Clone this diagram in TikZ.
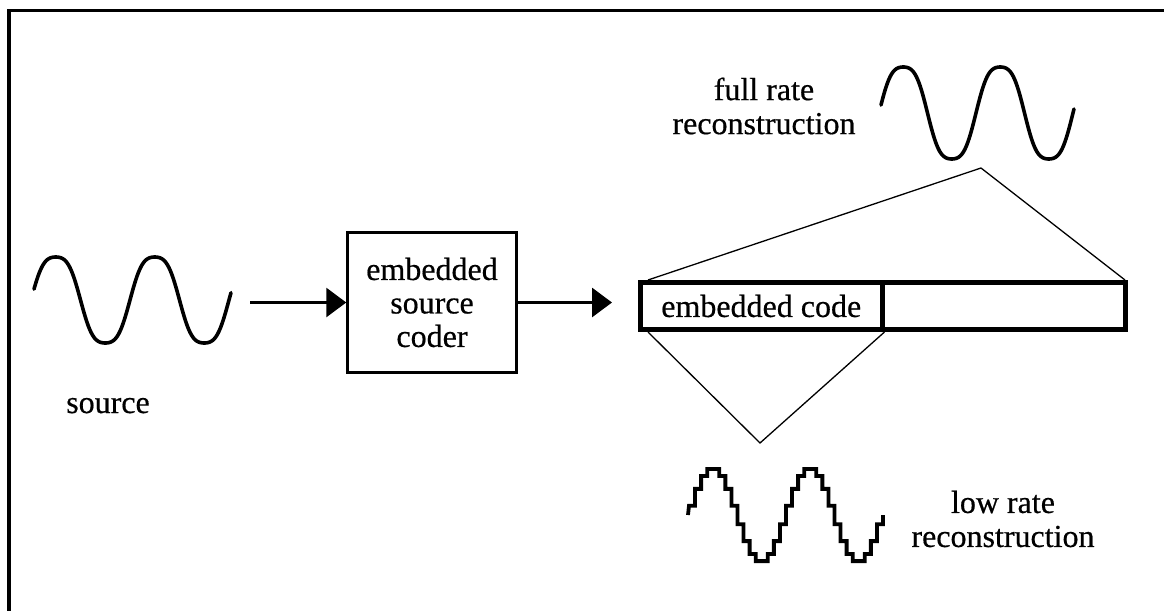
\documentclass[tikz,border=0pt]{standalone}
\usepackage{fontspec}
\setmainfont{Liberation Serif}[FakeBold=0.5]
\usetikzlibrary{arrows.meta,calc}
\begin{document}
\begin{tikzpicture}[x=0.5pt,y=-0.5pt,
  lbl/.style={font=\fontsize{16}{17}\selectfont, align=center, inner sep=0pt},
  framel/.style={line width=1.6pt},
  wave/.style={line width=1.8pt, line cap=round, line join=round},
  stepw/.style={line width=1.9pt, line join=miter},
  coderbox/.style={draw, line width=1.5pt, minimum width=84.25pt, minimum height=69.75pt,
                   inner sep=0pt, font=\fontsize{16}{16.75}\selectfont, align=center},
  cell/.style={draw, line width=2.5pt, minimum height=23.5pt, inner sep=0pt,
               font=\fontsize{16}{17}\selectfont},
  fan/.style={line width=0.65pt},
  arr/.style={line width=1.5pt, -{Triangle[length=10pt,width=14.5pt]}}]

\useasboundingbox (0,0) rectangle (1164,611);

% open frame (top and left edges)
\draw[framel] (9,611) -- (9,10.5) -- (1164,10.5);

% source signal (sine with a little third harmonic for rounder crests)
\draw[wave] plot[domain=34:231, samples=150, smooth]
  (\x, {300 - 43*(sin((\x-31)*3.6364) + 0.08*sin(3*(\x-31)*3.6364))/0.92});
\node[lbl, anchor=base] (srclbl) at (108,413) {source};

% coder block
\node[coderbox] (coder) at (432,302.5) {embedded\\source\\coder};

% embedded bit stream
\node[cell, minimum width=120.75pt] (code) at (761.25,306) {embedded code};
\node[cell, minimum width=121.75pt] (rest) at (1003.75,306) {};

% arrows
\coordinate (a1) at (250,302.5);
\draw[arr] (a1) -- (a1 -| coder.west);
\draw[arr, shorten >=13pt] (coder.east) -- (coder.east -| code.west);

% full rate reconstruction
\coordinate (fullpt) at (981,168);
\draw[fan] ([xshift=5pt]code.north west) -- (fullpt) -- ([xshift=-1.5pt]rest.north east);
\draw[wave] plot[domain=881:1074, samples=150, smooth]
  (\x, {113 - 46*(sin((\x-879)*3.7113) + 0.08*sin(3*(\x-879)*3.7113))/0.92});
\node[lbl] (fulllbl) at (764,106) {full rate\\reconstruction};

% low rate reconstruction (sample-and-hold staircase)
\coordinate (lowpt) at (760,443);
\draw[fan] ([xshift=5pt]code.south west) -- (lowpt) -- (code.south east);
\draw[stepw] (688,515)
  \foreach \k in {0,...,31} {
    -- ({689+\k*6.0625}, {515-47*sin(22.5*(\k+0.5))})
    -- ({689+(\k+1)*6.0625}, {515-47*sin(22.5*(\k+0.5))})
  } -- (883,515);
\node[lbl] (lowlbl) at (1003,519) {low rate\\reconstruction};

\end{tikzpicture}
\end{document}
